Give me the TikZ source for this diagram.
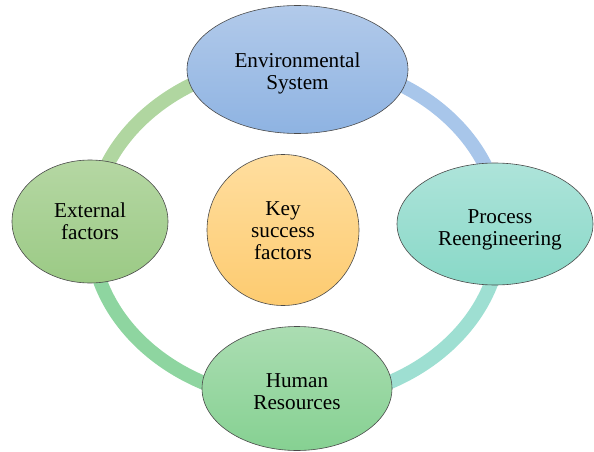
\documentclass[tikz,border=0pt]{standalone}
\usepackage{fontspec}
\setmainfont{Liberation Serif}
\usetikzlibrary{shapes.geometric}
% ring colours
\definecolor{ringA}{HTML}{B0D6A0}
\definecolor{ringB}{HTML}{A8C6EA}
\definecolor{ringC}{HTML}{9EDFD2}
\definecolor{ringD}{HTML}{8ED5A0}
% node fills (top / bottom of each gradient)
\definecolor{envT}{HTML}{B2CAEA}
\definecolor{envB}{HTML}{8EB3E2}
\definecolor{proT}{HTML}{AEE4DA}
\definecolor{proB}{HTML}{88D8C7}
\definecolor{humT}{HTML}{ABDDB2}
\definecolor{humB}{HTML}{86D192}
\definecolor{extT}{HTML}{B5D7A3}
\definecolor{extB}{HTML}{9BCA85}
\definecolor{keyT}{HTML}{FFDE9F}
\definecolor{keyB}{HTML}{FDCB70}
\definecolor{edge}{HTML}{4A4A4A}
\tikzset{
  blob/.style={ellipse, draw=edge, line width=0.6pt, inner sep=0pt},
  caption/.style={align=center, inner sep=0pt, font=\fontsize{21.2}{22}\selectfont},
  ringseg/.style={line width=14pt},
}
\begin{document}
\begin{tikzpicture}[x=1pt,y=1pt]
\useasboundingbox (0,0) rectangle (594,451);
% ring segments behind the ellipses
\coordinate (rc) at (296,220);
\draw[ringseg, ringA] ([shift={(90:205 and 170)}]rc) arc[start angle=90, end angle=180, x radius=205, y radius=170];
\draw[ringseg, ringB] ([shift={(0:205 and 170)}]rc) arc[start angle=0, end angle=90, x radius=205, y radius=170];
\draw[ringseg, ringC] ([shift={(270:205 and 170)}]rc) arc[start angle=270, end angle=360, x radius=205, y radius=170];
\draw[ringseg, ringD] ([shift={(180:205 and 170)}]rc) arc[start angle=180, end angle=270, x radius=205, y radius=170];
% outer ellipses
\node[blob, minimum width=221pt, minimum height=128pt, top color=envT, bottom color=envB] (env) at (297.5,381.5) {};
\node[blob, minimum width=196pt, minimum height=122pt, top color=proT, bottom color=proB] (pro) at (495,227) {};
\node[blob, minimum width=190pt, minimum height=124pt, top color=humT, bottom color=humB] (hum) at (297,62.5) {};
\node[blob, minimum width=156pt, minimum height=123pt, top color=extT, bottom color=extB] (ext) at (90,229.5) {};
% centre circle
\node[blob, minimum width=152pt, minimum height=151pt, top color=keyT, bottom color=keyB] (key) at (283,221) {};
% captions
\node[caption] (envtxt) at ([yshift=-4pt]env.center) {Environmental\\System};
\node[caption] (protxt) at ([xshift=5pt,yshift=-6pt]pro.center) {Process\\Reengineering};
\node[caption] (humtxt) at ([yshift=-3pt]hum.center) {Human\\Resources};
\node[caption] (exttxt) at (ext.center) {External\\factors};
\node[caption] (keytxt) at ([yshift=-1pt]key.center) {Key\\success\\factors};
\end{tikzpicture}
\end{document}
